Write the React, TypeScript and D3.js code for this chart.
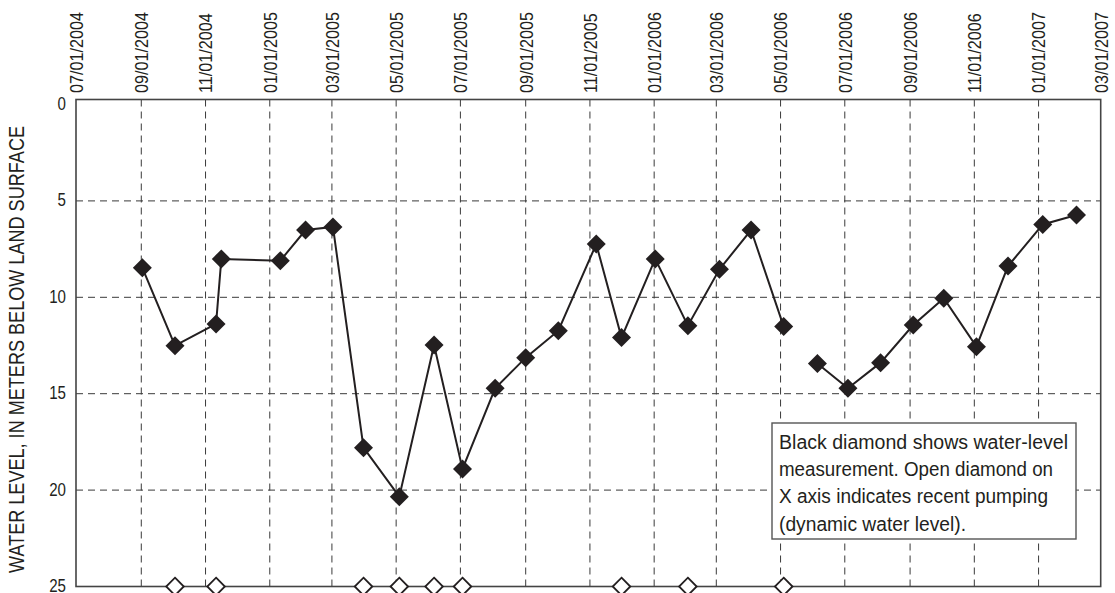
import React from "react";
import * as d3 from "d3";

// ---------- DATA ----------
const measurementDates = [
  "2004-09-02", "2004-10-03", "2004-11-11", "2004-11-16", "2005-01-11",
  "2005-02-04", "2005-03-02", "2005-03-31", "2005-05-04", "2005-06-06",
  "2005-07-03", "2005-08-03", "2005-09-01", "2005-10-02", "2005-11-07",
  "2005-12-01", "2006-01-02", "2006-02-02", "2006-03-04", "2006-04-03",
  "2006-05-04", "2006-06-05", "2006-07-04", "2006-08-04", "2006-09-04",
  "2006-10-03", "2006-11-03", "2006-12-03", "2007-01-05", "2007-02-06",
];
const waterLevels = [
  8.47, 12.51, 11.38, 8.01, 8.1,
  6.51, 6.35, 17.8, 20.34, 12.47,
  18.9, 14.72, 13.13, 11.73, 7.24,
  12.09, 8.01, 11.47, 8.55, 6.51,
  11.52, 13.43, 14.72, 13.39, 11.44,
  10.05, 12.56, 8.38, 6.22, 5.73,
];
// the connecting line is interrupted before this measurement
const lineBreakBefore = "2006-06-05";
const pumpingDates = [
  "2004-10-03", "2004-11-11", "2005-03-31", "2005-05-04", "2005-06-06",
  "2005-07-03", "2005-12-01", "2006-02-02", "2006-05-04",
];
const xTickLabels = [
  "07/01/2004", "09/01/2004", "11/01/2004", "01/01/2005", "03/01/2005",
  "05/01/2005", "07/01/2005", "09/01/2005", "11/01/2005", "01/01/2006",
  "03/01/2006", "05/01/2006", "07/01/2006", "09/01/2006", "11/01/2006",
  "01/01/2007", "03/01/2007",
];
const yTickValues = [0, 5, 10, 15, 20, 25];
const yAxisTitle = "WATER LEVEL, IN METERS BELOW LAND SURFACE";
const noteLines = [
  "Black diamond shows water-level",
  "measurement. Open diamond on",
  "X axis indicates recent pumping",
  "(dynamic water level).",
];
const noteLineWidths = [289, 274, 269, 187];

// ---------- LAYOUT ----------
const W = 1115;
const H = 593;
const plotLeft = 76;
const plotRight = 1100.7;
const plotTop = 99.5;
const plotBottom = 586.5;
const FONT = "'Liberation Sans', Arial, sans-serif";
const INK = "#231f20";
const NARROW = 0.853; // horizontal compression to mimic a condensed face

const parseIso = d3.utcParse("%Y-%m-%d");
const parseTick = d3.utcParse("%m/%d/%Y");

export default function App() {
  const tickDates = xTickLabels.map((t) => parseTick(t) as Date);
  const x = d3
    .scaleUtc()
    .domain([tickDates[0], tickDates[tickDates.length - 1]])
    .range([plotLeft, plotRight]);
  const y = d3.scaleLinear().domain([0, 25]).range([104.5, plotBottom]);

  const breakDate = (parseIso(lineBreakBefore) as Date).getTime();
  const points = measurementDates.map((d, i) => ({
    date: parseIso(d) as Date,
    value: waterLevels[i],
  }));
  const seg1 = points.filter((p) => p.date.getTime() < breakDate);
  const seg2 = points.filter((p) => p.date.getTime() >= breakDate);
  const line = d3
    .line<{ date: Date; value: number }>()
    .x((p) => x(p.date))
    .y((p) => y(p.value));

  const diamond = (cx: number, cy: number, r: number) =>
    `M${cx},${cy - r}L${cx + r},${cy}L${cx},${cy + r}L${cx - r},${cy}Z`;

  const noteX = 772;
  const noteY = 423;
  const noteW = 304;
  const noteH = 116;

  return (
    <svg
      width={W}
      height={H}
      style={{ position: "absolute", left: 0, top: 0, display: "block", background: "#fff" }}
      fontFamily={FONT}
    >
      <rect x={0} y={0} width={W} height={H} fill="#fff" />
      {/* vertical grid */}
      {tickDates.slice(1, -1).map((d, i) => (
        <line
          key={"vg" + i}
          x1={x(d)}
          x2={x(d)}
          y1={plotTop}
          y2={plotBottom}
          stroke="#3a3a3a"
          strokeWidth={1}
          strokeDasharray="7,5"
        />
      ))}
      {/* horizontal grid */}
      {yTickValues.slice(1, -1).map((v) => (
        <line
          key={"hg" + v}
          x1={plotLeft}
          x2={plotRight}
          y1={y(v)}
          y2={y(v)}
          stroke="#3a3a3a"
          strokeWidth={1}
          strokeDasharray="7,5"
        />
      ))}
      {/* frame */}
      <rect
        x={plotLeft}
        y={plotTop}
        width={plotRight - plotLeft}
        height={plotBottom - plotTop}
        fill="none"
        stroke="#444"
        strokeWidth={1.6}
      />
      {/* x labels */}
      {tickDates.map((d, i) => (
        <text
          key={"xl" + i}
          transform={`translate(${x(d)},93) rotate(-90) scale(${NARROW},1)`}
          dy="0.36em"
          fontSize={19}
          fill={INK}
          textAnchor="start"
        >
          {xTickLabels[i]}
        </text>
      ))}
      {/* y labels */}
      {yTickValues.map((v) => (
        <text
          key={"yl" + v}
          transform={`translate(66,${y(v)}) scale(0.84,1)`}
          dy="0.3em"
          fontSize={18}
          fill={INK}
          textAnchor="end"
        >
          {v}
        </text>
      ))}
      {/* y title */}
      <text
        transform={`translate(16,${(126 + 573) / 2}) rotate(-90)`}
        dy="0.36em"
        textAnchor="middle"
        fontSize={22}
        fill={INK}
        textLength={447}
        lengthAdjust="spacingAndGlyphs"
      >
        {yAxisTitle}
      </text>
      {/* data lines */}
      <path d={line(seg1) || ""} fill="none" stroke={INK} strokeWidth={2} />
      <path d={line(seg2) || ""} fill="none" stroke={INK} strokeWidth={2} />
      {/* filled diamonds */}
      {points.map((p, i) => (
        <path key={"fd" + i} d={diamond(x(p.date), y(p.value), 9.5)} fill={INK} />
      ))}
      {/* open diamonds on x axis */}
      {pumpingDates.map((d, i) => (
        <path
          key={"od" + i}
          d={diamond(x(parseIso(d) as Date), y(25), 8.8)}
          fill="#fff"
          stroke={INK}
          strokeWidth={1.8}
        />
      ))}
      {/* note box */}
      <rect x={noteX} y={noteY} width={noteW} height={noteH} fill="#fff" stroke="#555" strokeWidth={1.4} />
      {noteLines.map((t, i) => (
        <text
          key={"nl" + i}
          x={779}
          y={449 + i * 27.2}
          fontSize={20}
          fill={INK}
          textLength={noteLineWidths[i]}
          lengthAdjust="spacingAndGlyphs"
        >
          {t}
        </text>
      ))}
    </svg>
  );
}
